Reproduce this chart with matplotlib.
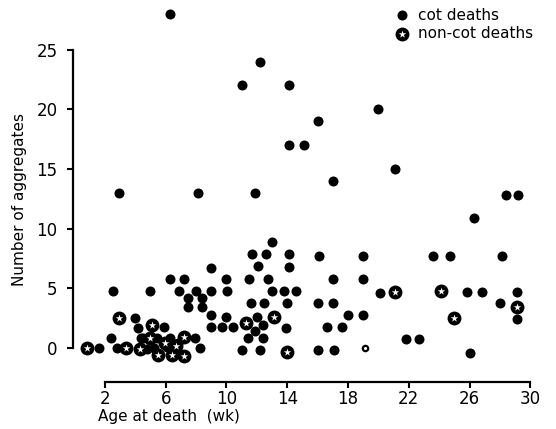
import matplotlib
matplotlib.use("Agg")
import matplotlib.pyplot as plt

# cot deaths (filled dots): age in weeks, number of aggregates
cot_age = [6.3, 2.9, 8.1, 11.9, 11.0, 12.2, 14.1, 14.1, 15.1, 16.0, 20.0,
           17.0, 21.1, 28.4, 29.2, 26.3,
           13.0, 11.65, 12.6, 14.1, 16.1, 19.0, 12.1, 14.1,
           6.3, 7.2, 10.0, 11.5, 12.7, 17.0, 19.0, 9.0,
           2.5, 5.0, 6.9, 8.0, 9.0, 10.05, 13.0, 13.8, 14.6, 20.1,
           7.5, 8.4, 7.5, 8.4, 11.6, 12.5, 14.0, 16.0, 17.0,
           8.95, 9.96, 12.0, 18.0, 19.0,
           8.95, 9.7, 10.4, 12.4, 13.9, 16.6, 17.6, 11.9,
           4.0, 4.2, 5.9,
           2.4, 4.4, 4.5, 5.4, 6.3, 6.8, 7.9, 11.4, 12.4, 21.8, 22.7,
           1.6, 2.8, 4.8, 5.2, 6.1, 8.25, 11.0, 12.2, 16.0, 17.1, 26.05,
           23.6, 24.7, 28.1, 25.8, 26.8, 29.1, 28.0, 29.1]
cot_n = [28, 13, 13, 13, 22, 24, 22, 17, 17, 19, 20,
         14, 15, 12.8, 12.8, 10.9,
         8.9, 7.9, 7.9, 7.9, 7.7, 7.7, 6.9, 6.8,
         5.8, 5.8, 5.8, 5.8, 5.8, 5.8, 5.8, 6.7,
         4.8, 4.8, 4.8, 4.8, 4.8, 4.8, 4.8, 4.8, 4.8, 4.6,
         4.2, 4.2, 3.4, 3.4, 3.8, 3.8, 3.8, 3.8, 3.8,
         2.8, 2.6, 2.6, 2.8, 2.8,
         1.8, 1.8, 1.8, 1.9, 1.7, 1.8, 1.8, 1.4,
         2.5, 1.7, 1.8,
         0.8, 0.8, 0.8, 0.8, 0.8, 0.4, 0.8, 0.8, 0.8, 0.75, 0.75,
         0.0, 0.0, -0.1, 0.0, 0.1, 0.0, -0.2, -0.2, -0.2, -0.2, -0.4,
         7.7, 7.7, 7.7, 4.7, 4.7, 4.7, 3.8, 2.4]

# non-cot deaths (star in circle)
noncot_age = [0.8, 2.9, 3.4, 4.3, 5.1, 5.0, 5.95, 6.7, 7.2, 5.5, 6.4, 7.2,
              11.3, 13.1, 14.0, 21.1, 24.15, 25.0, 29.15]
noncot_n = [0.0, 2.5, 0.0, -0.1, 1.9, 0.8, 0.4, 0.2, 0.9, -0.6, -0.6, -0.7,
            2.1, 2.6, -0.3, 4.7, 4.8, 2.5, 3.4]

# one small non-cot marker
small_age = [19.1]
small_n = [0.0]

xticks = [2, 6, 10, 14, 18, 22, 26, 30]
yticks = [0, 5, 10, 15, 20, 25]

fig = plt.figure(figsize=(5.56, 4.29), dpi=100)
ax = fig.add_axes([0.1313, 0.1096, 0.8363, 0.8858])

ax.scatter(cot_age, cot_n, s=52, c="black", marker="o", linewidths=0, zorder=3)
ax.scatter(noncot_age, noncot_n, s=100, c="black", marker="o", linewidths=0, zorder=4)
ax.scatter(noncot_age, noncot_n, s=32, c="white", marker="*", linewidths=0, zorder=5)
ax.scatter(small_age, small_n, s=30, c="black", marker="o", linewidths=0, zorder=4)
ax.scatter(small_age, small_n, s=5, c="white", marker="o", linewidths=0, zorder=5)

ax.set_xlim(-0.1, 30.5)
ax.set_ylim(-2.85, 29.0)

for side in ["top", "right"]:
    ax.spines[side].set_visible(False)
ax.spines["left"].set_bounds(0, 25)
ax.spines["bottom"].set_bounds(2, 30)
ax.spines["left"].set_linewidth(1.6)
ax.spines["bottom"].set_linewidth(1.6)

ax.set_xticks(xticks)
ax.set_xticklabels([str(t) for t in xticks])
ax.set_yticks(yticks)
ax.set_yticklabels([str(t) for t in yticks])
ax.tick_params(axis="both", direction="out", length=4, width=1.5, labelsize=12)
ax.tick_params(axis="x", pad=1.5)
ax.tick_params(axis="y", pad=7)

fig.text(98 / 556, 1 - 416 / 429, "Age at death  (wk)", fontsize=11,
         ha="left", va="center")
fig.text(20 / 556, 1 - 200 / 429, "Number of aggregates", fontsize=11,
         rotation=90, ha="center", va="center")

# legend drawn by hand in figure coordinates
lx = 402 / 556
leg_ax = fig.add_axes([0, 0, 1, 1], facecolor="none")
leg_ax.set_axis_off()
leg_ax.set_xlim(0, 1)
leg_ax.set_ylim(0, 1)
leg_ax.scatter([lx], [1 - 15 / 429], s=52, c="black", marker="o", linewidths=0)
leg_ax.scatter([lx], [1 - 34 / 429], s=100, c="black", marker="o", linewidths=0)
leg_ax.scatter([lx], [1 - 34 / 429], s=32, c="white", marker="*", linewidths=0)
fig.text(418 / 556, 1 - 15 / 429, "cot deaths", fontsize=11, ha="left", va="center")
fig.text(418 / 556, 1 - 34 / 429, "non-cot deaths", fontsize=11, ha="left", va="center")

plt.savefig("out.png", dpi=100)
